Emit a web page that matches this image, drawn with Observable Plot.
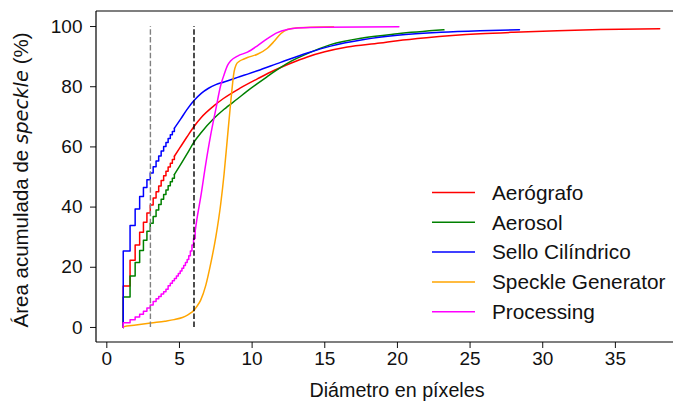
<!DOCTYPE html>
<html>
<head>
<meta charset="utf-8">
<script src="https://cdn.jsdelivr.net/npm/d3@7"></script>
<script src="https://cdn.jsdelivr.net/npm/@observablehq/plot@0.6"></script>
<style>
  html, body { margin: 0; padding: 0; background: #fff; }
  #chart svg { display: block; }
</style>
</head>
<body>
<div id="chart"></div>
<script>
// ---- Data ----
const seriesNames = ["Aerógrafo", "Aerosol", "Sello Cilíndrico", "Speckle Generator", "Processing"];
const seriesColors = ["red", "green", "blue", "orange", "magenta"];

// diameters (px) where the early stair steps occur
const stepDiam = [1.13, 1.6, 1.95, 2.26, 2.52, 2.76, 2.99, 3.19, 3.39, 3.57, 3.74, 3.91, 4.07, 4.22,
                  4.37, 4.51, 4.65, 4.79, 4.92, 5.05, 5.17, 5.29, 5.41, 5.53, 5.64, 5.75, 5.86, 5.97];

// Aerógrafo
const aerografoSteps = [13.8, 22.3, 27.4, 31.6, 35.0, 38.0, 40.7, 43.0, 45.1, 47.0, 48.8, 50.4, 51.9, 53.3, 54.6, 55.8];
const aerografoX = [4.65, 5.0, 5.5, 6.0, 6.5, 7.38, 8.0, 9.2, 10.36, 11.5, 12.66, 13.8, 15.0, 16.55, 18.8, 20.0, 22.0, 25.7, 28.0, 31.0, 34.0, 38.05];
const aerografoY = [56.9, 59.5, 63.2, 66.8, 69.8, 73.7, 76.0, 79.6, 82.6, 85.4, 87.8, 89.9, 91.6, 93.2, 94.5, 95.3, 96.3, 97.6, 98.1, 98.6, 99.0, 99.3];

// Aerosol
const aerosolSteps = [10.1, 17.1, 21.6, 25.6, 29.0, 32.0, 34.6, 36.9, 39.0, 40.9, 42.6, 44.2, 45.7, 47.1, 48.4, 49.6];
const aerosolX = [4.65, 5.0, 5.5, 6.0, 6.5, 7.38, 8.07, 9.0, 9.68, 10.36, 11.0, 11.5, 12.0, 12.66, 13.8, 15.4, 17.7, 20.0, 23.2];
const aerosolY = [50.8, 53.5, 57.5, 61.6, 64.8, 69.5, 72.5, 76.0, 78.6, 81.0, 83.2, 84.9, 86.5, 88.4, 91.0, 94.0, 96.3, 97.6, 98.9];

// Sello Cilíndrico
const selloSteps = [25.4, 33.9, 39.4, 43.5, 46.5, 49.1, 51.3, 53.4, 55.3, 57.0, 58.6, 60.1, 61.5, 62.8, 64.0, 65.1];
const selloX = [4.65, 5.09, 5.5, 6.0, 6.5, 7.0, 7.5, 8.07, 9.0, 10.36, 11.96, 13.8, 15.4, 17.7, 20.0, 23.0, 25.7, 28.4];
const selloY = [66.2, 69.3, 72.3, 75.4, 77.8, 79.5, 80.7, 81.6, 83.1, 85.3, 88.1, 91.2, 93.5, 95.7, 97.1, 98.1, 98.6, 98.9];

// Speckle Generator
const generatorX = [1.13, 2.0, 3.03, 4.0, 4.63, 5.2, 5.55, 5.8, 6.0, 6.2, 6.46, 6.81, 7.15, 7.5, 7.84, 8.07, 8.3, 8.53, 8.76, 8.9, 9.1, 9.44, 9.68, 10.36, 11.05, 11.5, 11.97, 12.43, 13.0, 14.0, 15.6];
const generatorY = [0.2, 0.8, 1.5, 2.1, 2.6, 3.3, 4.1, 4.9, 5.7, 7.0, 9.1, 14.0, 21.2, 30.0, 41.1, 51.0, 63.0, 75.0, 85.0, 87.3, 88.4, 89.2, 89.7, 90.8, 92.8, 95.0, 97.6, 99.0, 99.5, 99.8, 99.9];

// Processing
const processingSteps = [1.6, 2.6, 3.5, 4.4, 5.4, 6.5, 7.5, 8.6, 9.5, 10.3, 11.1, 11.9, 12.7, 13.9,
                         14.7, 15.5, 16.3, 17.1, 17.9, 18.8, 19.7, 20.6, 21.6, 22.6, 23.8, 25.4, 27.4, 29.6];
const processingX = [6.08, 6.2, 6.46, 6.81, 7.15, 7.5, 7.84, 8.07, 8.3, 8.53, 9.0, 9.68, 10.36, 11.05, 11.74, 12.43, 13.1, 15.0, 20.1];
const processingY = [32.0, 36.0, 43.3, 54.4, 64.0, 72.5, 80.5, 84.0, 87.0, 88.6, 90.2, 91.5, 93.6, 96.0, 98.0, 99.0, 99.5, 99.8, 99.9];

// axis ticks
const xTicks = [0, 5, 10, 15, 20, 25, 30, 35];
const yTicks = [0, 20, 40, 60, 80, 100];
const xDomain = [-0.71, 39.0];
const yDomain = [-5, 105];
const guideX = [3, 6];
const guideColors = ["#808080", "#000000"];

// ---- build tables ----
function stepRows(steps, sx, sy) {
  const rows = [{x: stepDiam[0], y: 0}];
  steps.forEach((v, i) => rows.push({x: stepDiam[i], y: v}));
  if (sx) rows.push({x: sx[0], y: sy[0]});
  return rows;
}
function smoothRows(xs, ys) { return xs.map((x, i) => ({x, y: ys[i]})); }

const stepped = [
  {rows: stepRows(aerografoSteps, aerografoX, aerografoY), color: seriesColors[0]},
  {rows: stepRows(aerosolSteps, aerosolX, aerosolY), color: seriesColors[1]},
  {rows: stepRows(selloSteps, selloX, selloY), color: seriesColors[2]},
  {rows: stepRows(processingSteps, processingX, processingY), color: seriesColors[4]}
];
const smooth = [
  {rows: smoothRows(aerografoX, aerografoY), color: seriesColors[0]},
  {rows: smoothRows(aerosolX, aerosolY), color: seriesColors[1]},
  {rows: smoothRows(selloX, selloY), color: seriesColors[2]},
  {rows: [{x: generatorX[0], y: 0}].concat(smoothRows(generatorX, generatorY)), color: seriesColors[3]},
  {rows: smoothRows(processingX, processingY), color: seriesColors[4]}
];

const W = 673, H = 403;
const marks = [];
for (const s of stepped.slice(0, 3)) {
  marks.push(Plot.line(s.rows, {x: "x", y: "y", stroke: s.color, strokeWidth: 1.5, curve: "step-after"}));
}
for (const s of smooth.slice(0, 3)) {
  marks.push(Plot.line(s.rows, {x: "x", y: "y", stroke: s.color, strokeWidth: 1.5, curve: "monotone-x"}));
}
marks.push(Plot.line(smooth[3].rows, {x: "x", y: "y", stroke: smooth[3].color, strokeWidth: 1.5, curve: "monotone-x"}));
marks.push(Plot.line(stepped[3].rows, {x: "x", y: "y", stroke: stepped[3].color, strokeWidth: 1.5, curve: "step-after"}));
marks.push(Plot.line(smooth[4].rows, {x: "x", y: "y", stroke: smooth[4].color, strokeWidth: 1.5, curve: "monotone-x"}));

guideX.forEach((g, i) => {
  marks.push(Plot.ruleX([g], {y1: 0, y2: 100, stroke: guideColors[i], strokeWidth: 1.4, strokeDasharray: "5.5,2.4"}));
});

const chart = Plot.plot({
  width: W,
  height: H,
  marginLeft: 96,
  marginRight: 0,
  marginTop: 11,
  marginBottom: 61,
  style: {fontFamily: "'Liberation Sans', Arial, sans-serif", fontSize: "19px", color: "#111", background: "#fff"},
  x: {domain: xDomain, ticks: xTicks, tickSize: 6, tickPadding: 3, label: null, tickFormat: d => String(d)},
  y: {domain: yDomain, ticks: yTicks, tickSize: 6, tickPadding: 8, label: null, tickFormat: d => String(d)},
  marks
});
document.getElementById("chart").appendChild(chart);

// ---- spines, axis labels and legend ----
const svg = d3.select(chart);
const sx = chart.scale("x"), sy = chart.scale("y");
const xL = sx.apply(xDomain[0]), xR = sx.apply(xDomain[1]);
const yT = sy.apply(yDomain[1]), yB = sy.apply(yDomain[0]);
const spines = svg.append("g").attr("stroke", "#000").attr("stroke-width", 1.2).attr("fill", "none");
spines.append("line").attr("x1", xL).attr("x2", xR + 20).attr("y1", yT).attr("y2", yT);
spines.append("line").attr("x1", xL).attr("x2", xR + 20).attr("y1", yB).attr("y2", yB);
spines.append("line").attr("x1", xL).attr("x2", xL).attr("y1", yT).attr("y2", yB);

svg.append("text")
  .attr("x", 397).attr("y", 397)
  .attr("text-anchor", "middle")
  .attr("font-size", 19.7).attr("fill", "#111")
  .text("Diámetro en píxeles");

const yl = svg.append("text")
  .attr("transform", "translate(28,180) rotate(-90)")
  .attr("text-anchor", "middle")
  .attr("font-size", 20.5).attr("fill", "#111");
yl.append("tspan").text("Área acumulada de ");
yl.append("tspan").attr("font-style", "italic").attr("font-family", "'DejaVu Sans', sans-serif").attr("font-size", 19.5).text("speckle");
yl.append("tspan").text(" (%)");

const legend = svg.append("g");
seriesNames.forEach((name, i) => {
  const cy = 192.5 + i * 29.8;
  legend.append("line").attr("x1", 432).attr("x2", 475).attr("y1", cy).attr("y2", cy)
    .attr("stroke", seriesColors[i]).attr("stroke-width", 1.5);
  legend.append("text").attr("x", 492).attr("y", cy).attr("dy", "0.35em")
    .attr("text-anchor", "start")
    .attr("font-size", 20.8).attr("fill", "#111").text(name);
});
</script>
</body>
</html>
